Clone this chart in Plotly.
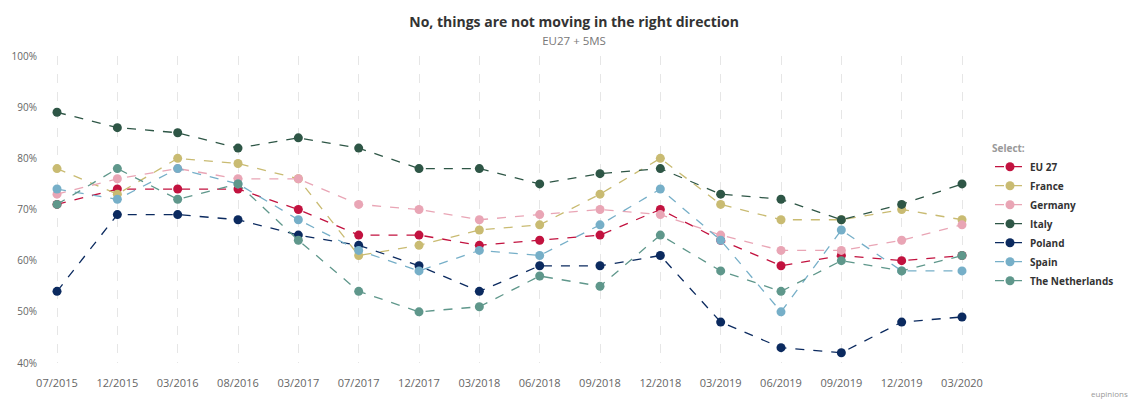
import plotly.graph_objects as go

periods = ["07/2015", "12/2015", "03/2016", "08/2016", "03/2017", "07/2017", "12/2017", "03/2018",
           "06/2018", "09/2018", "12/2018", "03/2019", "06/2019", "09/2019", "12/2019", "03/2020"]

eu27 = [71, 74, 74, 74, 70, 65, 65, 63, 64, 65, 70, 64, 59, 61, 60, 61]
france = [78, 73, 80, 79, 76, 61, 63, 66, 67, 73, 80, 71, 68, 68, 70, 68]
germany = [73, 76, 78, 76, 76, 71, 70, 68, 69, 70, 69, 65, 62, 62, 64, 67]
italy = [89, 86, 85, 82, 84, 82, 78, 78, 75, 77, 78, 73, 72, 68, 71, 75]
poland = [54, 69, 69, 68, 65, 63, 59, 54, 59, 59, 61, 48, 43, 42, 48, 49]
spain = [74, 72, 78, 75, 68, 62, 58, 62, 61, 67, 74, 64, 50, 66, 58, 58]
netherlands = [71, 78, 72, 75, 64, 54, 50, 51, 57, 55, 65, 58, 54, 60, 58, 61]

series = [
    ("EU 27", eu27, "#c2123f"),
    ("France", france, "#c9bb72"),
    ("Germany", germany, "#e9a5b5"),
    ("Italy", italy, "#2e5646"),
    ("Poland", poland, "#0b2a5f"),
    ("Spain", spain, "#76afc8"),
    ("The Netherlands", netherlands, "#5f978b"),
]

xs = list(range(len(periods)))

fig = go.Figure()
for name, vals, col in series:
    fig.add_trace(go.Scatter(
        x=xs, y=vals, name=name, mode="lines+markers",
        line=dict(color=col, width=1.3, dash="dash"),
        marker=dict(color=col, size=9),
        hovertemplate="%{y}%<extra>" + name + "</extra>",
    ))

fig.update_layout(
    width=1139, height=399,
    margin=dict(l=32, r=157, t=48, b=44, autoexpand=False),
    paper_bgcolor="white", plot_bgcolor="white",
    font=dict(family="Open Sans, DejaVu Sans, sans-serif", color="#666666", size=10),
    title=dict(
        text="<b>No, things are not moving in the right direction</b><br><span style='font-size:11.5px;color:#777777'>EU27 + 5MS</span>",
        x=0.497, xanchor="center", y=0.952, yanchor="top",
        font=dict(size=14, color="#333333"),
    ),
    xaxis=dict(
        tickvals=xs, ticktext=periods, range=[-0.282, 15.464],
        showgrid=True, gridcolor="#e6e6e6", griddash="dash", gridwidth=1,
        zeroline=False, showline=False, ticks="", automargin=False,
        ticklabelstandoff=12,
        tickfont=dict(size=11, color="#666666"),
    ),
    yaxis=dict(
        range=[40, 100], tickvals=[40, 50, 60, 70, 80, 90, 100],
        ticktext=["40%", "50%", "60%", "70%", "80%", "90%", "100%"],
        showgrid=False, zeroline=False, showline=False, ticks="", automargin=False,
        ticklabelstandoff=2,
        tickfont=dict(size=10, color="#666666"),
    ),
    legend=dict(
        x=1.0, xanchor="left", y=0.729, yanchor="top",
        title=dict(text="Select:", font=dict(size=10, color="#999999")),
        font=dict(size=10, color="#333333", weight="bold"),
        tracegroupgap=0, itemwidth=30,
    ),
    annotations=[dict(
        text="eupinions", xref="paper", yref="paper", x=1.147, y=-0.098,
        xanchor="right", yanchor="middle", showarrow=False,
        font=dict(size=8, color="#999999"),
    )],
)

fig.write_html("out.html")
